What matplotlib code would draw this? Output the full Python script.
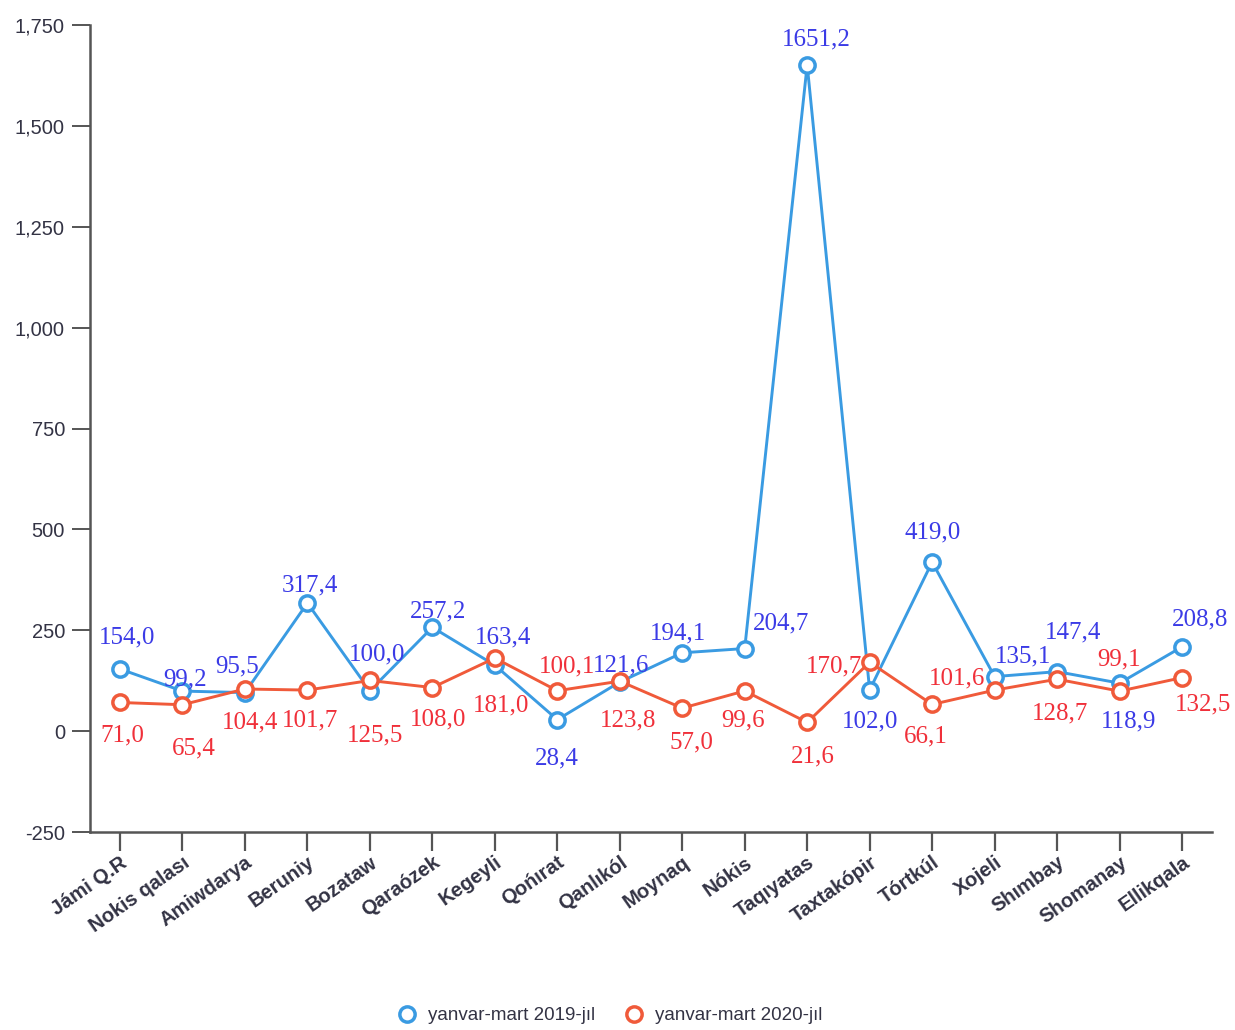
import matplotlib
matplotlib.use("Agg")
import matplotlib.pyplot as plt
from matplotlib.ticker import FuncFormatter

categories = ["Jámi Q.R", "Nokis qalası", "Amiwdarya", "Beruniy", "Bozataw", "Qaraózek",
              "Kegeyli", "Qońırat", "Qanlıkól", "Moynaq", "Nókis", "Taqıyatas",
              "Taxtakópir", "Tórtkúl", "Xojeli", "Shımbay", "Shomanay", "Ellikqala"]
values_2019 = [154.0, 99.2, 95.5, 317.4, 100.0, 257.2, 163.4, 28.4, 121.6, 194.1,
               204.7, 1651.2, 102.0, 419.0, 135.1, 147.4, 118.9, 208.8]
values_2020 = [71.0, 65.4, 104.4, 101.7, 125.5, 108.0, 181.0, 100.1, 123.8, 57.0,
               99.6, 21.6, 170.7, 66.1, 101.6, 128.7, 99.1, 132.5]
series_names = ["yanvar-mart 2019-jıl", "yanvar-mart 2020-jıl"]
y_ticks = [-250, 0, 250, 500, 750, 1000, 1250, 1500, 1750]

# label offsets (pixels, dx right, dy up)
off_2019 = [(7, 32), (3, 12), (-8, 26), (3, 18), (7, 36), (6, 16), (8, 28), (0, -39),
            (1, 17), (-4, 19), (36, 25), (9, 25), (0, -31), (1, 30), (28, 20), (16, 39),
            (9, -38), (18, 27)]
off_2020 = [(2, -33), (11, -44), (5, -33), (3, -30), (5, -55), (6, -32), (6, -47), (10, 24),
            (8, -39), (9, -34), (-2, -30), (6, -34), (-36, -4), (-6, -32), (-38, 12), (3, -34),
            (0, 32), (21, -27)]

sans = ["Liberation Sans", "DejaVu Sans"]
serif = ["Liberation Serif", "DejaVu Serif"]
plt.rcParams["font.family"] = sans

blue_line, blue_text = "#3a9be2", "#3b3be6"
red_line, red_text = "#f05a3a", "#f0303a"

fig = plt.figure(figsize=(12.35, 10.3), dpi=100)
ax = fig.add_axes([90/1235, (1030-832)/1030, (1212-90)/1235, (832-25)/1030])

x = list(range(len(categories)))
for vals, lc, tc, offs, name in [(values_2019, blue_line, blue_text, off_2019, series_names[0]),
                                  (values_2020, red_line, red_text, off_2020, series_names[1])]:
    ax.plot(x, vals, color=lc, lw=2.1, marker="o", markersize=11, markerfacecolor="white",
            markeredgecolor=lc, markeredgewidth=2.5, label=name, zorder=3)
    for xi, v, (dx, dy) in zip(x, vals, offs):
        ax.annotate(f"{v:.1f}".replace(".", ","), (xi, v), xytext=(dx*0.72, dy*0.72),
                    textcoords="offset points", ha="center", va="center",
                    color=tc, fontsize=18, family=serif, zorder=4)

ax.set_xlim(-0.48, 17.48)
ax.set_ylim(-250, 1750)
ax.set_yticks(y_ticks)
ax.yaxis.set_major_formatter(FuncFormatter(lambda v, p: f"{int(v):,}"))
ax.set_xticks(x)
ax.set_xticklabels(categories, rotation=35, ha="right", rotation_mode="anchor",
                   fontsize=14.5, fontweight="bold", color="#333344")
for lab in ax.get_yticklabels():
    lab.set_fontsize(14.5)
    lab.set_color("#333344")
ax.tick_params(axis="x", length=14, width=1.6, color="#555555", pad=1)
ax.tick_params(axis="y", length=13, width=1.4, color="#555555", pad=5)
for s in ["top", "right"]:
    ax.spines[s].set_visible(False)
for s in ["left", "bottom"]:
    ax.spines[s].set_color("#555555")
    ax.spines[s].set_linewidth(1.8)

leg = fig.legend(loc="center", bbox_to_anchor=(0.494, 0.014), ncol=2, frameon=False,
                 fontsize=13.5, handlelength=1.0, columnspacing=1.6, handletextpad=0.6)
for t in leg.get_texts():
    t.set_color("#333344")
for h in leg.legend_handles:
    h.set_linestyle("none")

fig.savefig("out.png", dpi=100)
